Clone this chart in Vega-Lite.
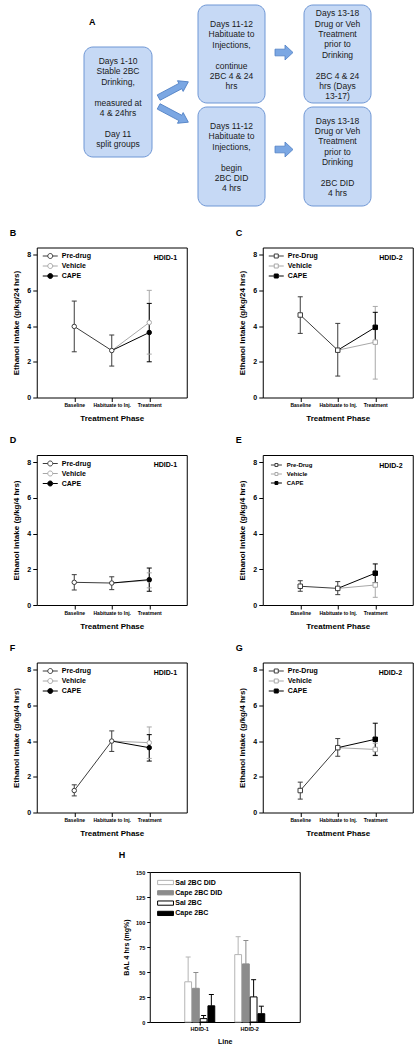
{
"$schema":"https://vega.github.io/schema/vega-lite/v6.json",
"background":"white",
"padding":{"left":9,"top":0,"right":0,"bottom":0},
"datasets":{
 "boxes":[
  {"box":"b1","x1":6.0,"x2":12.8,"y1":4.7,"y2":15.7},
  {"box":"b2","x1":17.4,"x2":24.1,"y1":0.5,"y2":10.3},
  {"box":"b3","x1":28.0,"x2":34.7,"y1":0.5,"y2":10.3},
  {"box":"b4","x1":17.4,"x2":24.1,"y1":10.7,"y2":20.6},
  {"box":"b5","x1":28.0,"x2":34.7,"y1":10.7,"y2":20.6}
 ],
 "notes":[
  {"box":"b1","cx":9.4,"ty":6.1,"label":"Days 1-10\nStable 2BC\nDrinking,"},
  {"box":"b1","cx":9.4,"ty":10.26,"label":"measured at\n4 & 24hrs"},
  {"box":"b1","cx":9.4,"ty":13.38,"label":"Day 11\nsplit groups"},
  {"box":"b2","cx":20.75,"ty":2.4,"label":"Days 11-12\nHabituate to\nInjections,"},
  {"box":"b2","cx":20.75,"ty":6.56,"label":"continue\n2BC 4 & 24\nhrs"},
  {"box":"b3","cx":31.35,"ty":1.33,"label":"Days 13-18\nDrug or Veh\nTreatment\nprior to\nDrinking"},
  {"box":"b3","cx":31.35,"ty":7.57,"label":"2BC 4 & 24\nhrs (Days\n13-17)"},
  {"box":"b4","cx":20.75,"ty":12.6,"label":"Days 11-12\nHabituate to\nInjections,"},
  {"box":"b4","cx":20.75,"ty":16.76,"label":"begin\n2BC DID\n4 hrs"},
  {"box":"b5","cx":31.35,"ty":12.07,"label":"Days 13-18\nDrug or Veh\nTreatment\nprior to\nDrinking"},
  {"box":"b5","cx":31.35,"ty":18.31,"label":"2BC DID\n4 hrs"}
 ],
 "arrows":[
  {"dir":"right","x":26.0,"y":5.25},
  {"dir":"right","x":26.0,"y":14.95},
  {"dir":"up","x":14.95,"y":8.97},
  {"dir":"down","x":14.95,"y":11.43}
 ],
 "pts":[
  {"panel":"B","phase":"Baseline","group":"Pre-drug","mean":3.98,"lo":2.56,"hi":5.40},
  {"panel":"B","phase":"Habituate to Inj.","group":"Pre-drug","mean":2.63,"lo":1.76,"hi":3.50},
  {"panel":"B","phase":"Treatment","group":"Vehicle","mean":4.20,"lo":2.43,"hi":6.00},
  {"panel":"B","phase":"Treatment","group":"CAPE","mean":3.64,"lo":2.00,"hi":5.27},
  {"panel":"C","phase":"Baseline","group":"Pre-Drug","mean":4.62,"lo":3.59,"hi":5.64},
  {"panel":"C","phase":"Habituate to Inj.","group":"Pre-Drug","mean":2.65,"lo":1.20,"hi":4.15},
  {"panel":"C","phase":"Treatment","group":"Vehicle","mean":3.10,"lo":1.03,"hi":5.10},
  {"panel":"C","phase":"Treatment","group":"CAPE","mean":3.93,"lo":3.09,"hi":4.77},
  {"panel":"D","phase":"Baseline","group":"Pre-drug","mean":1.27,"lo":0.84,"hi":1.70},
  {"panel":"D","phase":"Habituate to Inj.","group":"Pre-drug","mean":1.23,"lo":0.86,"hi":1.58},
  {"panel":"D","phase":"Treatment","group":"Vehicle","mean":1.38,"lo":0.96,"hi":1.80},
  {"panel":"D","phase":"Treatment","group":"CAPE","mean":1.42,"lo":0.77,"hi":2.07},
  {"panel":"E","phase":"Baseline","group":"Pre-Drug","mean":1.05,"lo":0.77,"hi":1.36},
  {"panel":"E","phase":"Habituate to Inj.","group":"Pre-Drug","mean":0.93,"lo":0.58,"hi":1.31},
  {"panel":"E","phase":"Treatment","group":"Vehicle","mean":1.12,"lo":0.43,"hi":1.81},
  {"panel":"E","phase":"Treatment","group":"CAPE","mean":1.78,"lo":1.26,"hi":2.30},
  {"panel":"F","phase":"Baseline","group":"Pre-drug","mean":1.23,"lo":0.93,"hi":1.55},
  {"panel":"F","phase":"Habituate to Inj.","group":"Pre-drug","mean":4.00,"lo":3.42,"hi":4.57},
  {"panel":"F","phase":"Treatment","group":"Vehicle","mean":3.91,"lo":3.03,"hi":4.79},
  {"panel":"F","phase":"Treatment","group":"CAPE","mean":3.63,"lo":2.88,"hi":4.36},
  {"panel":"G","phase":"Baseline","group":"Pre-Drug","mean":1.23,"lo":0.75,"hi":1.70},
  {"panel":"G","phase":"Habituate to Inj.","group":"Pre-Drug","mean":3.63,"lo":3.15,"hi":4.14},
  {"panel":"G","phase":"Treatment","group":"Vehicle","mean":3.53,"lo":3.18,"hi":3.88},
  {"panel":"G","phase":"Treatment","group":"CAPE","mean":4.10,"lo":3.20,"hi":5.00}
 ],
 "paths":[
  {"panel":"B","group":"Pre-drug","phase":"Baseline","mean":3.98},
  {"panel":"B","group":"Pre-drug","phase":"Habituate to Inj.","mean":2.63},
  {"panel":"B","group":"Vehicle","phase":"Habituate to Inj.","mean":2.63},
  {"panel":"B","group":"Vehicle","phase":"Treatment","mean":4.20},
  {"panel":"B","group":"CAPE","phase":"Habituate to Inj.","mean":2.63},
  {"panel":"B","group":"CAPE","phase":"Treatment","mean":3.64},
  {"panel":"C","group":"Pre-Drug","phase":"Baseline","mean":4.62},
  {"panel":"C","group":"Pre-Drug","phase":"Habituate to Inj.","mean":2.65},
  {"panel":"C","group":"Vehicle","phase":"Habituate to Inj.","mean":2.65},
  {"panel":"C","group":"Vehicle","phase":"Treatment","mean":3.10},
  {"panel":"C","group":"CAPE","phase":"Habituate to Inj.","mean":2.65},
  {"panel":"C","group":"CAPE","phase":"Treatment","mean":3.93},
  {"panel":"D","group":"Pre-drug","phase":"Baseline","mean":1.27},
  {"panel":"D","group":"Pre-drug","phase":"Habituate to Inj.","mean":1.23},
  {"panel":"D","group":"Vehicle","phase":"Habituate to Inj.","mean":1.23},
  {"panel":"D","group":"Vehicle","phase":"Treatment","mean":1.38},
  {"panel":"D","group":"CAPE","phase":"Habituate to Inj.","mean":1.23},
  {"panel":"D","group":"CAPE","phase":"Treatment","mean":1.42},
  {"panel":"E","group":"Pre-Drug","phase":"Baseline","mean":1.05},
  {"panel":"E","group":"Pre-Drug","phase":"Habituate to Inj.","mean":0.93},
  {"panel":"E","group":"Vehicle","phase":"Habituate to Inj.","mean":0.93},
  {"panel":"E","group":"Vehicle","phase":"Treatment","mean":1.12},
  {"panel":"E","group":"CAPE","phase":"Habituate to Inj.","mean":0.93},
  {"panel":"E","group":"CAPE","phase":"Treatment","mean":1.78},
  {"panel":"F","group":"Pre-drug","phase":"Baseline","mean":1.23},
  {"panel":"F","group":"Pre-drug","phase":"Habituate to Inj.","mean":4.00},
  {"panel":"F","group":"Vehicle","phase":"Habituate to Inj.","mean":4.00},
  {"panel":"F","group":"Vehicle","phase":"Treatment","mean":3.91},
  {"panel":"F","group":"CAPE","phase":"Habituate to Inj.","mean":4.00},
  {"panel":"F","group":"CAPE","phase":"Treatment","mean":3.63},
  {"panel":"G","group":"Pre-Drug","phase":"Baseline","mean":1.23},
  {"panel":"G","group":"Pre-Drug","phase":"Habituate to Inj.","mean":3.63},
  {"panel":"G","group":"Vehicle","phase":"Habituate to Inj.","mean":3.63},
  {"panel":"G","group":"Vehicle","phase":"Treatment","mean":3.53},
  {"panel":"G","group":"CAPE","phase":"Habituate to Inj.","mean":3.63},
  {"panel":"G","group":"CAPE","phase":"Treatment","mean":4.10}
 ],
 "bal":[
  {"line":"HDID-1","group":"Sal 2BC DID","mean":40.2,"hi":65.0},
  {"line":"HDID-1","group":"Cape 2BC DID","mean":33.7,"hi":49.5},
  {"line":"HDID-1","group":"Sal 2BC","mean":3.4,"hi":6.5},
  {"line":"HDID-1","group":"Cape 2BC","mean":16.2,"hi":27.5},
  {"line":"HDID-2","group":"Sal 2BC DID","mean":67.4,"hi":85.3},
  {"line":"HDID-2","group":"Cape 2BC DID","mean":58.1,"hi":81.5},
  {"line":"HDID-2","group":"Sal 2BC","mean":25.1,"hi":42.3},
  {"line":"HDID-2","group":"Cape 2BC","mean":8.3,"hi":15.8}
 ]
},
"spacing":11.5,
"center":true,
"resolve":{"scale":{"stroke":"independent","fill":"independent"},"legend":{"stroke":"independent","fill":"independent"}},
"vconcat":[
 {
  "width":402,"height":216,
  "view":{"stroke":null},
  "layer":[
   {"data":{"name":"boxes"},
    "mark":{"type":"rect","cornerRadius":9,"fill":"#c6d9f5","stroke":"#6f97d5","strokeWidth":1},
    "encoding":{
     "x":{"field":"x1","type":"quantitative","scale":{"domain":[0,40.2],"nice":false,"zero":false},"axis":null},
     "x2":{"field":"x2"},
     "y":{"field":"y1","type":"quantitative","scale":{"domain":[0,21.6],"nice":false,"zero":false,"reverse":true},"axis":null},
     "y2":{"field":"y2"}}},
   {"data":{"name":"notes"},
    "mark":{"type":"text","fontSize":8.5,"lineHeight":10.4,"lineBreak":"\n","align":"center","baseline":"middle","color":"#1a1a1a","font":"Liberation Sans"},
    "encoding":{
     "x":{"field":"cx","type":"quantitative","axis":null},
     "y":{"field":"ty","type":"quantitative","axis":null},
     "text":{"field":"label"}}},
   {"data":{"name":"arrows"},"transform":[{"filter":"datum.dir==='right'"}],
    "mark":{"type":"point","shape":"M-1,-0.37L0.11,-0.37L0.11,-0.83L1,0L0.11,0.83L0.11,0.37L-1,0.37Z","size":324,"filled":true,"fill":"#7ba7e3","stroke":"#4f7fc4","strokeWidth":0.8,"opacity":1},
    "encoding":{"x":{"field":"x","type":"quantitative","axis":null},"y":{"field":"y","type":"quantitative","axis":null}}},
   {"data":{"name":"arrows"},"transform":[{"filter":"datum.dir==='up'"}],
    "mark":{"type":"point","shape":"M-1,-0.18L0.46,-0.18L0.46,-0.36L1,0L0.46,0.36L0.46,0.18L-1,0.18Z","size":1129,"angle":332,"filled":true,"fill":"#7ba7e3","stroke":"#4f7fc4","strokeWidth":0.8,"opacity":1},
    "encoding":{"x":{"field":"x","type":"quantitative","axis":null},"y":{"field":"y","type":"quantitative","axis":null}}},
   {"data":{"name":"arrows"},"transform":[{"filter":"datum.dir==='down'"}],
    "mark":{"type":"point","shape":"M-1,-0.18L0.46,-0.18L0.46,-0.36L1,0L0.46,0.36L0.46,0.18L-1,0.18Z","size":1129,"angle":28,"filled":true,"fill":"#7ba7e3","stroke":"#4f7fc4","strokeWidth":0.8,"opacity":1},
    "encoding":{"x":{"field":"x","type":"quantitative","axis":null},"y":{"field":"y","type":"quantitative","axis":null}}},
   {"data":{"values":[{"panel":"A","x":6.5,"y":2.2}]},
    "mark":{"type":"text","fontSize":9,"fontWeight":"bold","align":"left","baseline":"middle","color":"#000"},
    "encoding":{"x":{"field":"x","type":"quantitative","axis":null},"y":{"field":"y","type":"quantitative","axis":null},"text":{"field":"panel"}}}
  ]
 },
 {
  "hconcat":[
   {
    "title":{"text":"B","dx":-27},
    "width":150,"height":150,
    "layer":[
     {"data":{"name":"pts"},"transform":[{"filter":"datum.panel==='B'"}],
      "mark":{"type":"rule","strokeWidth":1},
      "encoding":{
       "x":{"field":"phase","type":"ordinal","scale":{"type":"point","domain":["Baseline","Habituate to Inj.","Treatment"],"padding":1},"title":"Treatment Phase"},
       "y":{"field":"lo","type":"quantitative","scale":{"domain":[0,8.4],"nice":false},"axis":{"values":[0,2,4,6,8],"tickCount":20,"format":"d","labelOverlap":false},"title":"Ethanol Intake (g/kg/24 hrs)"},
       "y2":{"field":"hi"},
       "stroke":{"field":"group","type":"nominal","scale":{"domain":["Pre-drug","Vehicle","CAPE"],"range":["#3c3c3c","#a8a8a8","#000000"]}}}},
     {"data":{"name":"pts"},"transform":[{"filter":"datum.panel==='B'"},{"fold":["lo","hi"],"as":["bound","val"]}],
      "mark":{"type":"point","shape":"M-1,0H1","size":25,"strokeWidth":1,"opacity":1},
      "encoding":{
       "x":{"field":"phase","type":"ordinal","title":"Treatment Phase"},
       "y":{"field":"val","type":"quantitative","axis":{"values":[0,2,4,6,8],"tickCount":20,"format":"d","labelOverlap":false},"title":"Ethanol Intake (g/kg/24 hrs)"},
       "stroke":{"field":"group","type":"nominal"}}},
     {"data":{"name":"paths"},"transform":[{"filter":"datum.panel==='B'"}],
      "mark":{"type":"line","strokeWidth":1},
      "encoding":{
       "x":{"field":"phase","type":"ordinal","title":"Treatment Phase"},
       "y":{"field":"mean","type":"quantitative","axis":{"values":[0,2,4,6,8],"tickCount":20,"format":"d","labelOverlap":false},"title":"Ethanol Intake (g/kg/24 hrs)"},
       "stroke":{"field":"group","type":"nominal"}}},
     {"data":{"name":"pts"},"transform":[{"filter":"datum.panel==='B'"}],
      "mark":{"type":"point","shape":"circle","size":20,"strokeWidth":1,"opacity":1},
      "encoding":{
       "x":{"field":"phase","type":"ordinal","title":"Treatment Phase"},
       "y":{"field":"mean","type":"quantitative","axis":{"values":[0,2,4,6,8],"tickCount":20,"format":"d","labelOverlap":false},"title":"Ethanol Intake (g/kg/24 hrs)"},
       "stroke":{"field":"group","type":"nominal","scale":{"domain":["Pre-drug","Vehicle","CAPE"],"range":["#3c3c3c","#a8a8a8","#000000"]},"legend":{"title":null,"orient":"top-left","offset":5,"padding":0,"symbolType":"M-1,0H1M3,0H5M1,0A1,1,0,1,1,3,0A1,1,0,1,1,1,0Z","symbolSize":25,"symbolStrokeWidth":1,"labelFontSize":7,"labelFontWeight":"bold","labelOffset":13,"rowPadding":1}},
       "fill":{"field":"group","type":"nominal","scale":{"domain":["Pre-drug","Vehicle","CAPE"],"range":["#ffffff","#ffffff","#000000"]},"legend":{"title":null,"orient":"top-left","offset":5,"padding":0,"symbolType":"M-1,0H1M3,0H5M1,0A1,1,0,1,1,3,0A1,1,0,1,1,1,0Z","symbolSize":25,"symbolStrokeWidth":1,"labelFontSize":7,"labelFontWeight":"bold","labelOffset":13,"rowPadding":1}}}},
     {"data":{"values":[{"line":"HDID-1"}]},
      "mark":{"type":"text","align":"left","baseline":"middle","dx":4.5,"fontSize":7,"fontWeight":"bold","color":"#000"},
      "encoding":{"x":{"datum":"Treatment","type":"ordinal"},"y":{"datum":7.82,"type":"quantitative"},"text":{"field":"line"}}}
    ]
   },
   {
    "title":{"text":"C","dx":-27},
    "width":150,"height":150,
    "layer":[
     {"data":{"name":"pts"},"transform":[{"filter":"datum.panel==='C'"}],
      "mark":{"type":"rule","strokeWidth":1},
      "encoding":{
       "x":{"field":"phase","type":"ordinal","scale":{"type":"point","domain":["Baseline","Habituate to Inj.","Treatment"],"padding":1},"title":"Treatment Phase"},
       "y":{"field":"lo","type":"quantitative","scale":{"domain":[0,8.4],"nice":false},"axis":{"values":[0,2,4,6,8],"tickCount":20,"format":"d","labelOverlap":false},"title":"Ethanol Intake (g/kg/24 hrs)"},
       "y2":{"field":"hi"},
       "stroke":{"field":"group","type":"nominal","scale":{"domain":["Pre-Drug","Vehicle","CAPE"],"range":["#3c3c3c","#a8a8a8","#000000"]}}}},
     {"data":{"name":"pts"},"transform":[{"filter":"datum.panel==='C'"},{"fold":["lo","hi"],"as":["bound","val"]}],
      "mark":{"type":"point","shape":"M-1,0H1","size":25,"strokeWidth":1,"opacity":1},
      "encoding":{
       "x":{"field":"phase","type":"ordinal","title":"Treatment Phase"},
       "y":{"field":"val","type":"quantitative","axis":{"values":[0,2,4,6,8],"tickCount":20,"format":"d","labelOverlap":false},"title":"Ethanol Intake (g/kg/24 hrs)"},
       "stroke":{"field":"group","type":"nominal"}}},
     {"data":{"name":"paths"},"transform":[{"filter":"datum.panel==='C'"}],
      "mark":{"type":"line","strokeWidth":1},
      "encoding":{
       "x":{"field":"phase","type":"ordinal","title":"Treatment Phase"},
       "y":{"field":"mean","type":"quantitative","axis":{"values":[0,2,4,6,8],"tickCount":20,"format":"d","labelOverlap":false},"title":"Ethanol Intake (g/kg/24 hrs)"},
       "stroke":{"field":"group","type":"nominal"}}},
     {"data":{"name":"pts"},"transform":[{"filter":"datum.panel==='C'"}],
      "mark":{"type":"point","shape":"square","size":20,"strokeWidth":1,"opacity":1},
      "encoding":{
       "x":{"field":"phase","type":"ordinal","title":"Treatment Phase"},
       "y":{"field":"mean","type":"quantitative","axis":{"values":[0,2,4,6,8],"tickCount":20,"format":"d","labelOverlap":false},"title":"Ethanol Intake (g/kg/24 hrs)"},
       "stroke":{"field":"group","type":"nominal","scale":{"domain":["Pre-Drug","Vehicle","CAPE"],"range":["#3c3c3c","#a8a8a8","#000000"]},"legend":{"title":null,"orient":"top-left","offset":5,"padding":0,"symbolType":"M-1,0H1.2M2.8,0H5M1.2,-0.8H2.8V0.8H1.2Z","symbolSize":25,"symbolStrokeWidth":1,"labelFontSize":7,"labelFontWeight":"bold","labelOffset":13,"rowPadding":1}},
       "fill":{"field":"group","type":"nominal","scale":{"domain":["Pre-Drug","Vehicle","CAPE"],"range":["#ffffff","#ffffff","#000000"]},"legend":{"title":null,"orient":"top-left","offset":5,"padding":0,"symbolType":"M-1,0H1.2M2.8,0H5M1.2,-0.8H2.8V0.8H1.2Z","symbolSize":25,"symbolStrokeWidth":1,"labelFontSize":7,"labelFontWeight":"bold","labelOffset":13,"rowPadding":1}}}},
     {"data":{"values":[{"line":"HDID-2"}]},
      "mark":{"type":"text","align":"left","baseline":"middle","dx":4,"fontSize":7,"fontWeight":"bold","color":"#000"},
      "encoding":{"x":{"datum":"Treatment","type":"ordinal"},"y":{"datum":7.82,"type":"quantitative"},"text":{"field":"line"}}}
    ]
   }
  ],
  "spacing":47,
  "resolve":{"scale":{"stroke":"independent","fill":"independent"},"legend":{"stroke":"independent","fill":"independent"}}
 },
 {
  "hconcat":[
   {
    "title":{"text":"D","dx":-27},
    "width":150,"height":150,
    "layer":[
     {"data":{"name":"pts"},"transform":[{"filter":"datum.panel==='D'"}],
      "mark":{"type":"rule","strokeWidth":1},
      "encoding":{
       "x":{"field":"phase","type":"ordinal","scale":{"type":"point","domain":["Baseline","Habituate to Inj.","Treatment"],"padding":1},"title":"Treatment Phase"},
       "y":{"field":"lo","type":"quantitative","scale":{"domain":[0,8.4],"nice":false},"axis":{"values":[0,2,4,6,8],"tickCount":20,"format":"d","labelOverlap":false},"title":"Ethanol Intake (g/kg/4 hrs)"},
       "y2":{"field":"hi"},
       "stroke":{"field":"group","type":"nominal","scale":{"domain":["Pre-drug","Vehicle","CAPE"],"range":["#3c3c3c","#a8a8a8","#000000"]}}}},
     {"data":{"name":"pts"},"transform":[{"filter":"datum.panel==='D'"},{"fold":["lo","hi"],"as":["bound","val"]}],
      "mark":{"type":"point","shape":"M-1,0H1","size":25,"strokeWidth":1,"opacity":1},
      "encoding":{
       "x":{"field":"phase","type":"ordinal","title":"Treatment Phase"},
       "y":{"field":"val","type":"quantitative","axis":{"values":[0,2,4,6,8],"tickCount":20,"format":"d","labelOverlap":false},"title":"Ethanol Intake (g/kg/4 hrs)"},
       "stroke":{"field":"group","type":"nominal"}}},
     {"data":{"name":"paths"},"transform":[{"filter":"datum.panel==='D'"}],
      "mark":{"type":"line","strokeWidth":1},
      "encoding":{
       "x":{"field":"phase","type":"ordinal","title":"Treatment Phase"},
       "y":{"field":"mean","type":"quantitative","axis":{"values":[0,2,4,6,8],"tickCount":20,"format":"d","labelOverlap":false},"title":"Ethanol Intake (g/kg/4 hrs)"},
       "stroke":{"field":"group","type":"nominal"}}},
     {"data":{"name":"pts"},"transform":[{"filter":"datum.panel==='D'"}],
      "mark":{"type":"point","shape":"circle","size":20,"strokeWidth":1,"opacity":1},
      "encoding":{
       "x":{"field":"phase","type":"ordinal","title":"Treatment Phase"},
       "y":{"field":"mean","type":"quantitative","axis":{"values":[0,2,4,6,8],"tickCount":20,"format":"d","labelOverlap":false},"title":"Ethanol Intake (g/kg/4 hrs)"},
       "stroke":{"field":"group","type":"nominal","scale":{"domain":["Pre-drug","Vehicle","CAPE"],"range":["#3c3c3c","#a8a8a8","#000000"]},"legend":{"title":null,"orient":"top-left","offset":5,"padding":0,"symbolType":"M-1,0H1M3,0H5M1,0A1,1,0,1,1,3,0A1,1,0,1,1,1,0Z","symbolSize":25,"symbolStrokeWidth":1,"labelFontSize":7,"labelFontWeight":"bold","labelOffset":13,"rowPadding":1}},
       "fill":{"field":"group","type":"nominal","scale":{"domain":["Pre-drug","Vehicle","CAPE"],"range":["#ffffff","#ffffff","#000000"]},"legend":{"title":null,"orient":"top-left","offset":5,"padding":0,"symbolType":"M-1,0H1M3,0H5M1,0A1,1,0,1,1,3,0A1,1,0,1,1,1,0Z","symbolSize":25,"symbolStrokeWidth":1,"labelFontSize":7,"labelFontWeight":"bold","labelOffset":13,"rowPadding":1}}}},
     {"data":{"values":[{"line":"HDID-1"}]},
      "mark":{"type":"text","align":"left","baseline":"middle","dx":4.5,"fontSize":7,"fontWeight":"bold","color":"#000"},
      "encoding":{"x":{"datum":"Treatment","type":"ordinal"},"y":{"datum":7.82,"type":"quantitative"},"text":{"field":"line"}}}
    ]
   },
   {
    "title":{"text":"E","dx":-27},
    "width":150,"height":150,
    "layer":[
     {"data":{"name":"pts"},"transform":[{"filter":"datum.panel==='E'"}],
      "mark":{"type":"rule","strokeWidth":1},
      "encoding":{
       "x":{"field":"phase","type":"ordinal","scale":{"type":"point","domain":["Baseline","Habituate to Inj.","Treatment"],"padding":1},"title":"Treatment Phase"},
       "y":{"field":"lo","type":"quantitative","scale":{"domain":[0,8.4],"nice":false},"axis":{"values":[0,2,4,6,8],"tickCount":20,"format":"d","labelOverlap":false},"title":"Ethanol Intake (g/kg/4 hrs)"},
       "y2":{"field":"hi"},
       "stroke":{"field":"group","type":"nominal","scale":{"domain":["Pre-Drug","Vehicle","CAPE"],"range":["#3c3c3c","#a8a8a8","#000000"]}}}},
     {"data":{"name":"pts"},"transform":[{"filter":"datum.panel==='E'"},{"fold":["lo","hi"],"as":["bound","val"]}],
      "mark":{"type":"point","shape":"M-1,0H1","size":25,"strokeWidth":1,"opacity":1},
      "encoding":{
       "x":{"field":"phase","type":"ordinal","title":"Treatment Phase"},
       "y":{"field":"val","type":"quantitative","axis":{"values":[0,2,4,6,8],"tickCount":20,"format":"d","labelOverlap":false},"title":"Ethanol Intake (g/kg/4 hrs)"},
       "stroke":{"field":"group","type":"nominal"}}},
     {"data":{"name":"paths"},"transform":[{"filter":"datum.panel==='E'"}],
      "mark":{"type":"line","strokeWidth":1},
      "encoding":{
       "x":{"field":"phase","type":"ordinal","title":"Treatment Phase"},
       "y":{"field":"mean","type":"quantitative","axis":{"values":[0,2,4,6,8],"tickCount":20,"format":"d","labelOverlap":false},"title":"Ethanol Intake (g/kg/4 hrs)"},
       "stroke":{"field":"group","type":"nominal"}}},
     {"data":{"name":"pts"},"transform":[{"filter":"datum.panel==='E'"}],
      "mark":{"type":"point","shape":"square","size":20,"strokeWidth":1,"opacity":1},
      "encoding":{
       "x":{"field":"phase","type":"ordinal","title":"Treatment Phase"},
       "y":{"field":"mean","type":"quantitative","axis":{"values":[0,2,4,6,8],"tickCount":20,"format":"d","labelOverlap":false},"title":"Ethanol Intake (g/kg/4 hrs)"},
       "stroke":{"field":"group","type":"nominal","scale":{"domain":["Pre-Drug","Vehicle","CAPE"],"range":["#3c3c3c","#a8a8a8","#000000"]},"legend":{"title":null,"orient":"top-left","offset":6.7,"padding":0,"symbolType":"M-1,0H1.2M2.8,0H5M1.2,-0.8H2.8V0.8H1.2Z","symbolSize":13.4,"symbolStrokeWidth":1,"labelFontSize":6,"labelFontWeight":"bold","labelOffset":11,"rowPadding":1}},
       "fill":{"field":"group","type":"nominal","scale":{"domain":["Pre-Drug","Vehicle","CAPE"],"range":["#ffffff","#ffffff","#000000"]},"legend":{"title":null,"orient":"top-left","offset":6.7,"padding":0,"symbolType":"M-1,0H1.2M2.8,0H5M1.2,-0.8H2.8V0.8H1.2Z","symbolSize":13.4,"symbolStrokeWidth":1,"labelFontSize":6,"labelFontWeight":"bold","labelOffset":11,"rowPadding":1}}}},
     {"data":{"values":[{"line":"HDID-2"}]},
      "mark":{"type":"text","align":"left","baseline":"middle","dx":4,"fontSize":7,"fontWeight":"bold","color":"#000"},
      "encoding":{"x":{"datum":"Treatment","type":"ordinal"},"y":{"datum":7.8,"type":"quantitative"},"text":{"field":"line"}}}
    ]
   }
  ],
  "spacing":47,
  "resolve":{"scale":{"stroke":"independent","fill":"independent"},"legend":{"stroke":"independent","fill":"independent"}}
 },
 {
  "hconcat":[
   {
    "title":{"text":"F","dx":-27},
    "width":150,"height":150,
    "layer":[
     {"data":{"name":"pts"},"transform":[{"filter":"datum.panel==='F'"}],
      "mark":{"type":"rule","strokeWidth":1},
      "encoding":{
       "x":{"field":"phase","type":"ordinal","scale":{"type":"point","domain":["Baseline","Habituate to Inj.","Treatment"],"padding":1},"title":"Treatment Phase"},
       "y":{"field":"lo","type":"quantitative","scale":{"domain":[0,8.4],"nice":false},"axis":{"values":[0,2,4,6,8],"tickCount":20,"format":"d","labelOverlap":false},"title":"Ethanol Intake (g/kg/4 hrs)"},
       "y2":{"field":"hi"},
       "stroke":{"field":"group","type":"nominal","scale":{"domain":["Pre-drug","Vehicle","CAPE"],"range":["#3c3c3c","#a8a8a8","#000000"]}}}},
     {"data":{"name":"pts"},"transform":[{"filter":"datum.panel==='F'"},{"fold":["lo","hi"],"as":["bound","val"]}],
      "mark":{"type":"point","shape":"M-1,0H1","size":25,"strokeWidth":1,"opacity":1},
      "encoding":{
       "x":{"field":"phase","type":"ordinal","title":"Treatment Phase"},
       "y":{"field":"val","type":"quantitative","axis":{"values":[0,2,4,6,8],"tickCount":20,"format":"d","labelOverlap":false},"title":"Ethanol Intake (g/kg/4 hrs)"},
       "stroke":{"field":"group","type":"nominal"}}},
     {"data":{"name":"paths"},"transform":[{"filter":"datum.panel==='F'"}],
      "mark":{"type":"line","strokeWidth":1},
      "encoding":{
       "x":{"field":"phase","type":"ordinal","title":"Treatment Phase"},
       "y":{"field":"mean","type":"quantitative","axis":{"values":[0,2,4,6,8],"tickCount":20,"format":"d","labelOverlap":false},"title":"Ethanol Intake (g/kg/4 hrs)"},
       "stroke":{"field":"group","type":"nominal"}}},
     {"data":{"name":"pts"},"transform":[{"filter":"datum.panel==='F'"}],
      "mark":{"type":"point","shape":"circle","size":20,"strokeWidth":1,"opacity":1},
      "encoding":{
       "x":{"field":"phase","type":"ordinal","title":"Treatment Phase"},
       "y":{"field":"mean","type":"quantitative","axis":{"values":[0,2,4,6,8],"tickCount":20,"format":"d","labelOverlap":false},"title":"Ethanol Intake (g/kg/4 hrs)"},
       "stroke":{"field":"group","type":"nominal","scale":{"domain":["Pre-drug","Vehicle","CAPE"],"range":["#3c3c3c","#a8a8a8","#000000"]},"legend":{"title":null,"orient":"top-left","offset":5,"padding":0,"symbolType":"M-1,0H1M3,0H5M1,0A1,1,0,1,1,3,0A1,1,0,1,1,1,0Z","symbolSize":25,"symbolStrokeWidth":1,"labelFontSize":7,"labelFontWeight":"bold","labelOffset":13,"rowPadding":1}},
       "fill":{"field":"group","type":"nominal","scale":{"domain":["Pre-drug","Vehicle","CAPE"],"range":["#ffffff","#ffffff","#000000"]},"legend":{"title":null,"orient":"top-left","offset":5,"padding":0,"symbolType":"M-1,0H1M3,0H5M1,0A1,1,0,1,1,3,0A1,1,0,1,1,1,0Z","symbolSize":25,"symbolStrokeWidth":1,"labelFontSize":7,"labelFontWeight":"bold","labelOffset":13,"rowPadding":1}}}},
     {"data":{"values":[{"line":"HDID-1"}]},
      "mark":{"type":"text","align":"left","baseline":"middle","dx":4.5,"fontSize":7,"fontWeight":"bold","color":"#000"},
      "encoding":{"x":{"datum":"Treatment","type":"ordinal"},"y":{"datum":7.82,"type":"quantitative"},"text":{"field":"line"}}}
    ]
   },
   {
    "title":{"text":"G","dx":-27},
    "width":150,"height":150,
    "layer":[
     {"data":{"name":"pts"},"transform":[{"filter":"datum.panel==='G'"}],
      "mark":{"type":"rule","strokeWidth":1},
      "encoding":{
       "x":{"field":"phase","type":"ordinal","scale":{"type":"point","domain":["Baseline","Habituate to Inj.","Treatment"],"padding":1},"title":"Treatment Phase"},
       "y":{"field":"lo","type":"quantitative","scale":{"domain":[0,8.4],"nice":false},"axis":{"values":[0,2,4,6,8],"tickCount":20,"format":"d","labelOverlap":false},"title":"Ethanol Intake (g/kg/4 hrs)"},
       "y2":{"field":"hi"},
       "stroke":{"field":"group","type":"nominal","scale":{"domain":["Pre-Drug","Vehicle","CAPE"],"range":["#3c3c3c","#a8a8a8","#000000"]}}}},
     {"data":{"name":"pts"},"transform":[{"filter":"datum.panel==='G'"},{"fold":["lo","hi"],"as":["bound","val"]}],
      "mark":{"type":"point","shape":"M-1,0H1","size":25,"strokeWidth":1,"opacity":1},
      "encoding":{
       "x":{"field":"phase","type":"ordinal","title":"Treatment Phase"},
       "y":{"field":"val","type":"quantitative","axis":{"values":[0,2,4,6,8],"tickCount":20,"format":"d","labelOverlap":false},"title":"Ethanol Intake (g/kg/4 hrs)"},
       "stroke":{"field":"group","type":"nominal"}}},
     {"data":{"name":"paths"},"transform":[{"filter":"datum.panel==='G'"}],
      "mark":{"type":"line","strokeWidth":1},
      "encoding":{
       "x":{"field":"phase","type":"ordinal","title":"Treatment Phase"},
       "y":{"field":"mean","type":"quantitative","axis":{"values":[0,2,4,6,8],"tickCount":20,"format":"d","labelOverlap":false},"title":"Ethanol Intake (g/kg/4 hrs)"},
       "stroke":{"field":"group","type":"nominal"}}},
     {"data":{"name":"pts"},"transform":[{"filter":"datum.panel==='G'"}],
      "mark":{"type":"point","shape":"square","size":20,"strokeWidth":1,"opacity":1},
      "encoding":{
       "x":{"field":"phase","type":"ordinal","title":"Treatment Phase"},
       "y":{"field":"mean","type":"quantitative","axis":{"values":[0,2,4,6,8],"tickCount":20,"format":"d","labelOverlap":false},"title":"Ethanol Intake (g/kg/4 hrs)"},
       "stroke":{"field":"group","type":"nominal","scale":{"domain":["Pre-Drug","Vehicle","CAPE"],"range":["#3c3c3c","#a8a8a8","#000000"]},"legend":{"title":null,"orient":"top-left","offset":5,"padding":0,"symbolType":"M-1,0H1.2M2.8,0H5M1.2,-0.8H2.8V0.8H1.2Z","symbolSize":25,"symbolStrokeWidth":1,"labelFontSize":7,"labelFontWeight":"bold","labelOffset":13,"rowPadding":1}},
       "fill":{"field":"group","type":"nominal","scale":{"domain":["Pre-Drug","Vehicle","CAPE"],"range":["#ffffff","#ffffff","#000000"]},"legend":{"title":null,"orient":"top-left","offset":5,"padding":0,"symbolType":"M-1,0H1.2M2.8,0H5M1.2,-0.8H2.8V0.8H1.2Z","symbolSize":25,"symbolStrokeWidth":1,"labelFontSize":7,"labelFontWeight":"bold","labelOffset":13,"rowPadding":1}}}},
     {"data":{"values":[{"line":"HDID-2"}]},
      "mark":{"type":"text","align":"left","baseline":"middle","dx":3.5,"fontSize":7,"fontWeight":"bold","color":"#000"},
      "encoding":{"x":{"datum":"Treatment","type":"ordinal"},"y":{"datum":7.82,"type":"quantitative"},"text":{"field":"line"}}}
    ]
   }
  ],
  "spacing":47,
  "resolve":{"scale":{"stroke":"independent","fill":"independent"},"legend":{"stroke":"independent","fill":"independent"}}
 },
 {
  "title":{"text":"H","dx":-31},
  "width":150,"height":150,
  "data":{"name":"bal"},
  "encoding":{
   "x":{"field":"line","type":"nominal","scale":{"domain":["HDID-1","HDID-2"],"paddingInner":0.4,"paddingOuter":0.7},"axis":{"labelFontSize":5.5,"titleFontSize":7,"tickSize":3,"titlePadding":6},"title":"Line"},
   "xOffset":{"field":"group","type":"nominal","scale":{"domain":["Sal 2BC DID","Cape 2BC DID","Sal 2BC","Cape 2BC"],"paddingInner":0.12}}
  },
  "layer":[
   {"mark":{"type":"rule","strokeWidth":1},
    "encoding":{
     "y":{"field":"mean","type":"quantitative","scale":{"domain":[0,150],"nice":false},"axis":{"values":[0,25,50,75,100,125,150],"tickCount":20,"format":"d","labelOverlap":false,"labelFontSize":5.5,"titleFontSize":7,"tickSize":3},"title":"BAL 4 hrs (mg%)"},
     "y2":{"field":"hi"},
     "stroke":{"field":"group","type":"nominal","scale":{"domain":["Sal 2BC DID","Cape 2BC DID","Sal 2BC","Cape 2BC"],"range":["#b4b4b4","#8c8c8c","#000000","#000000"]}}}},
   {"mark":{"type":"point","shape":"M-1,0H1","size":25,"strokeWidth":1,"opacity":1},
    "encoding":{
     "y":{"field":"hi","type":"quantitative","axis":{"values":[0,25,50,75,100,125,150],"tickCount":20,"format":"d","labelOverlap":false,"labelFontSize":5.5,"titleFontSize":7,"tickSize":3},"title":"BAL 4 hrs (mg%)"},
     "stroke":{"field":"group","type":"nominal"}}},
   {"mark":{"type":"bar","strokeWidth":1},
    "encoding":{
     "y":{"field":"mean","type":"quantitative","axis":{"values":[0,25,50,75,100,125,150],"tickCount":20,"format":"d","labelOverlap":false,"labelFontSize":5.5,"titleFontSize":7,"tickSize":3},"title":"BAL 4 hrs (mg%)"},
     "stroke":{"field":"group","type":"nominal","scale":{"domain":["Sal 2BC DID","Cape 2BC DID","Sal 2BC","Cape 2BC"],"range":["#b4b4b4","#8c8c8c","#000000","#000000"]},"legend":{"title":null,"orient":"top-left","offset":7,"padding":0,"symbolType":"M-1,-0.8H5V0.8H-1Z","symbolSize":28,"symbolStrokeWidth":1,"labelFontSize":7,"labelFontWeight":"bold","labelOffset":11.5,"rowPadding":1.3}},
     "fill":{"field":"group","type":"nominal","scale":{"domain":["Sal 2BC DID","Cape 2BC DID","Sal 2BC","Cape 2BC"],"range":["#ffffff","#8c8c8c","#ffffff","#000000"]},"legend":{"title":null,"orient":"top-left","offset":7,"padding":0,"symbolType":"M-1,-0.8H5V0.8H-1Z","symbolSize":28,"symbolStrokeWidth":1,"labelFontSize":7,"labelFontWeight":"bold","labelOffset":11.5,"rowPadding":1.3}}}}
  ]
 }
],
"config":{
 "font":"Liberation Sans",
 "view":{"stroke":"#000000","strokeWidth":1},
 "axis":{"grid":false,"domain":false,"ticks":true,"tickColor":"#000","tickSize":4,"tickWidth":1,"labelFont":"Liberation Sans","labelFontWeight":"bold","labelColor":"#000","titleFont":"Liberation Sans","titleFontWeight":"bold","titleColor":"#000","labelOverlap":false},
 "axisX":{"labelFontSize":5,"labelAngle":0,"labelPadding":1,"titleFontSize":8,"titlePadding":7},
 "axisY":{"labelFontSize":7,"labelPadding":2,"titleFontSize":8,"titlePadding":6},
 "title":{"font":"Liberation Sans","fontWeight":"bold","fontSize":9,"anchor":"start","frame":"group","color":"#000","offset":10},
 "legend":{"labelFont":"Liberation Sans","labelFontWeight":"bold","labelColor":"#000"}
}
}
